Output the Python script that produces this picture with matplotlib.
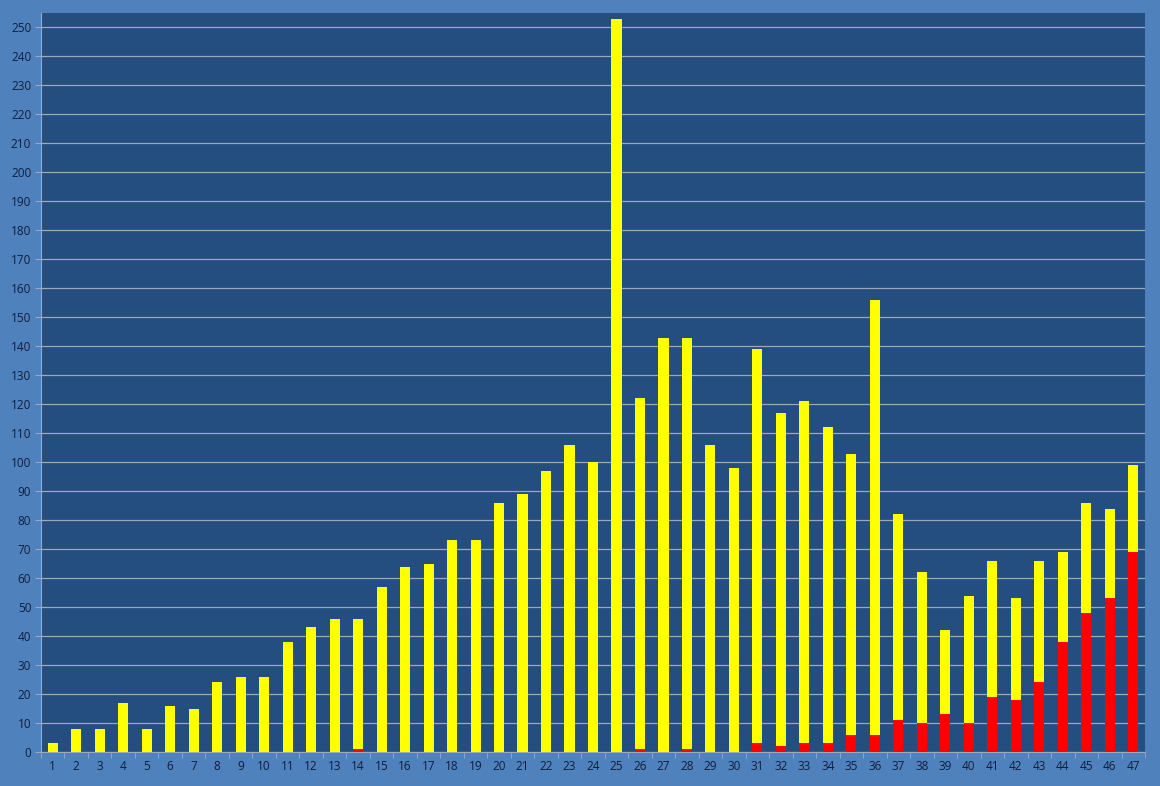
import matplotlib
matplotlib.use("Agg")
import matplotlib.pyplot as plt
import numpy as np

categories = [str(i) for i in range(1, 48)]
totals = [3, 8, 8, 17, 8, 16, 15, 24, 26, 26, 38, 43, 46, 46, 57, 64, 65, 73, 73, 86,
          89, 97, 106, 100, 253, 122, 143, 143, 106, 98, 139, 117, 121, 112, 103, 156,
          82, 62, 42, 54, 66, 53, 66, 69, 86, 84, 99]
red_vals = [0, 0, 0, 0, 0, 0, 0, 0, 0, 0, 0, 0, 0, 1, 0, 0, 0, 0, 0, 0,
            0, 0, 0, 0, 0, 1, 0, 1, 0, 0, 3, 2, 3, 3, 6, 6,
            11, 10, 13, 10, 19, 18, 24, 38, 48, 53, 69]
yellow_vals = [t - r for t, r in zip(totals, red_vals)]

plt.rcParams['font.family'] = ['Open Sans', 'DejaVu Sans']

fig = plt.figure(figsize=(11.6, 7.86), dpi=100)
fig.patch.set_facecolor('#4F81BD')
ax = fig.add_axes([41/1160, (786-752)/786, (1145-41)/1160, (752-13)/786])
ax.set_facecolor('#234E7F')

x = np.arange(len(categories))
ax.bar(x, red_vals, width=0.43, color='#FF0000', zorder=3)
ax.bar(x, yellow_vals, bottom=red_vals, width=0.43, color='#FFFF00', zorder=3)

ax.set_xlim(-0.5, len(categories) - 0.5)
ax.set_ylim(0, 255)
ax.set_yticks(np.arange(0, 251, 10))
ax.grid(axis='y', color='#A0A8B8', linewidth=0.9, zorder=1)
ax.set_axisbelow(True)

ax.set_xticks(x)
ax.set_xticklabels(categories)
ax.set_xticks(np.arange(-0.5, len(categories), 1), minor=True)
ax.tick_params(axis='x', which='major', length=0, pad=6, labelsize=8.5, labelcolor='#0F1E3C')
ax.tick_params(axis='x', which='minor', length=4, color='#A0A8B8', direction='out')
ax.tick_params(axis='y', length=4, color='#A0A8B8', direction='out', labelsize=8.5,
               labelcolor='#0F1E3C', pad=3)

for s in ['top', 'right']:
    ax.spines[s].set_visible(False)
ax.spines['bottom'].set_color('#A0A8B8')
ax.spines['left'].set_color('#A0A8B8')

fig.savefig('out.png', dpi=100, facecolor=fig.get_facecolor())
